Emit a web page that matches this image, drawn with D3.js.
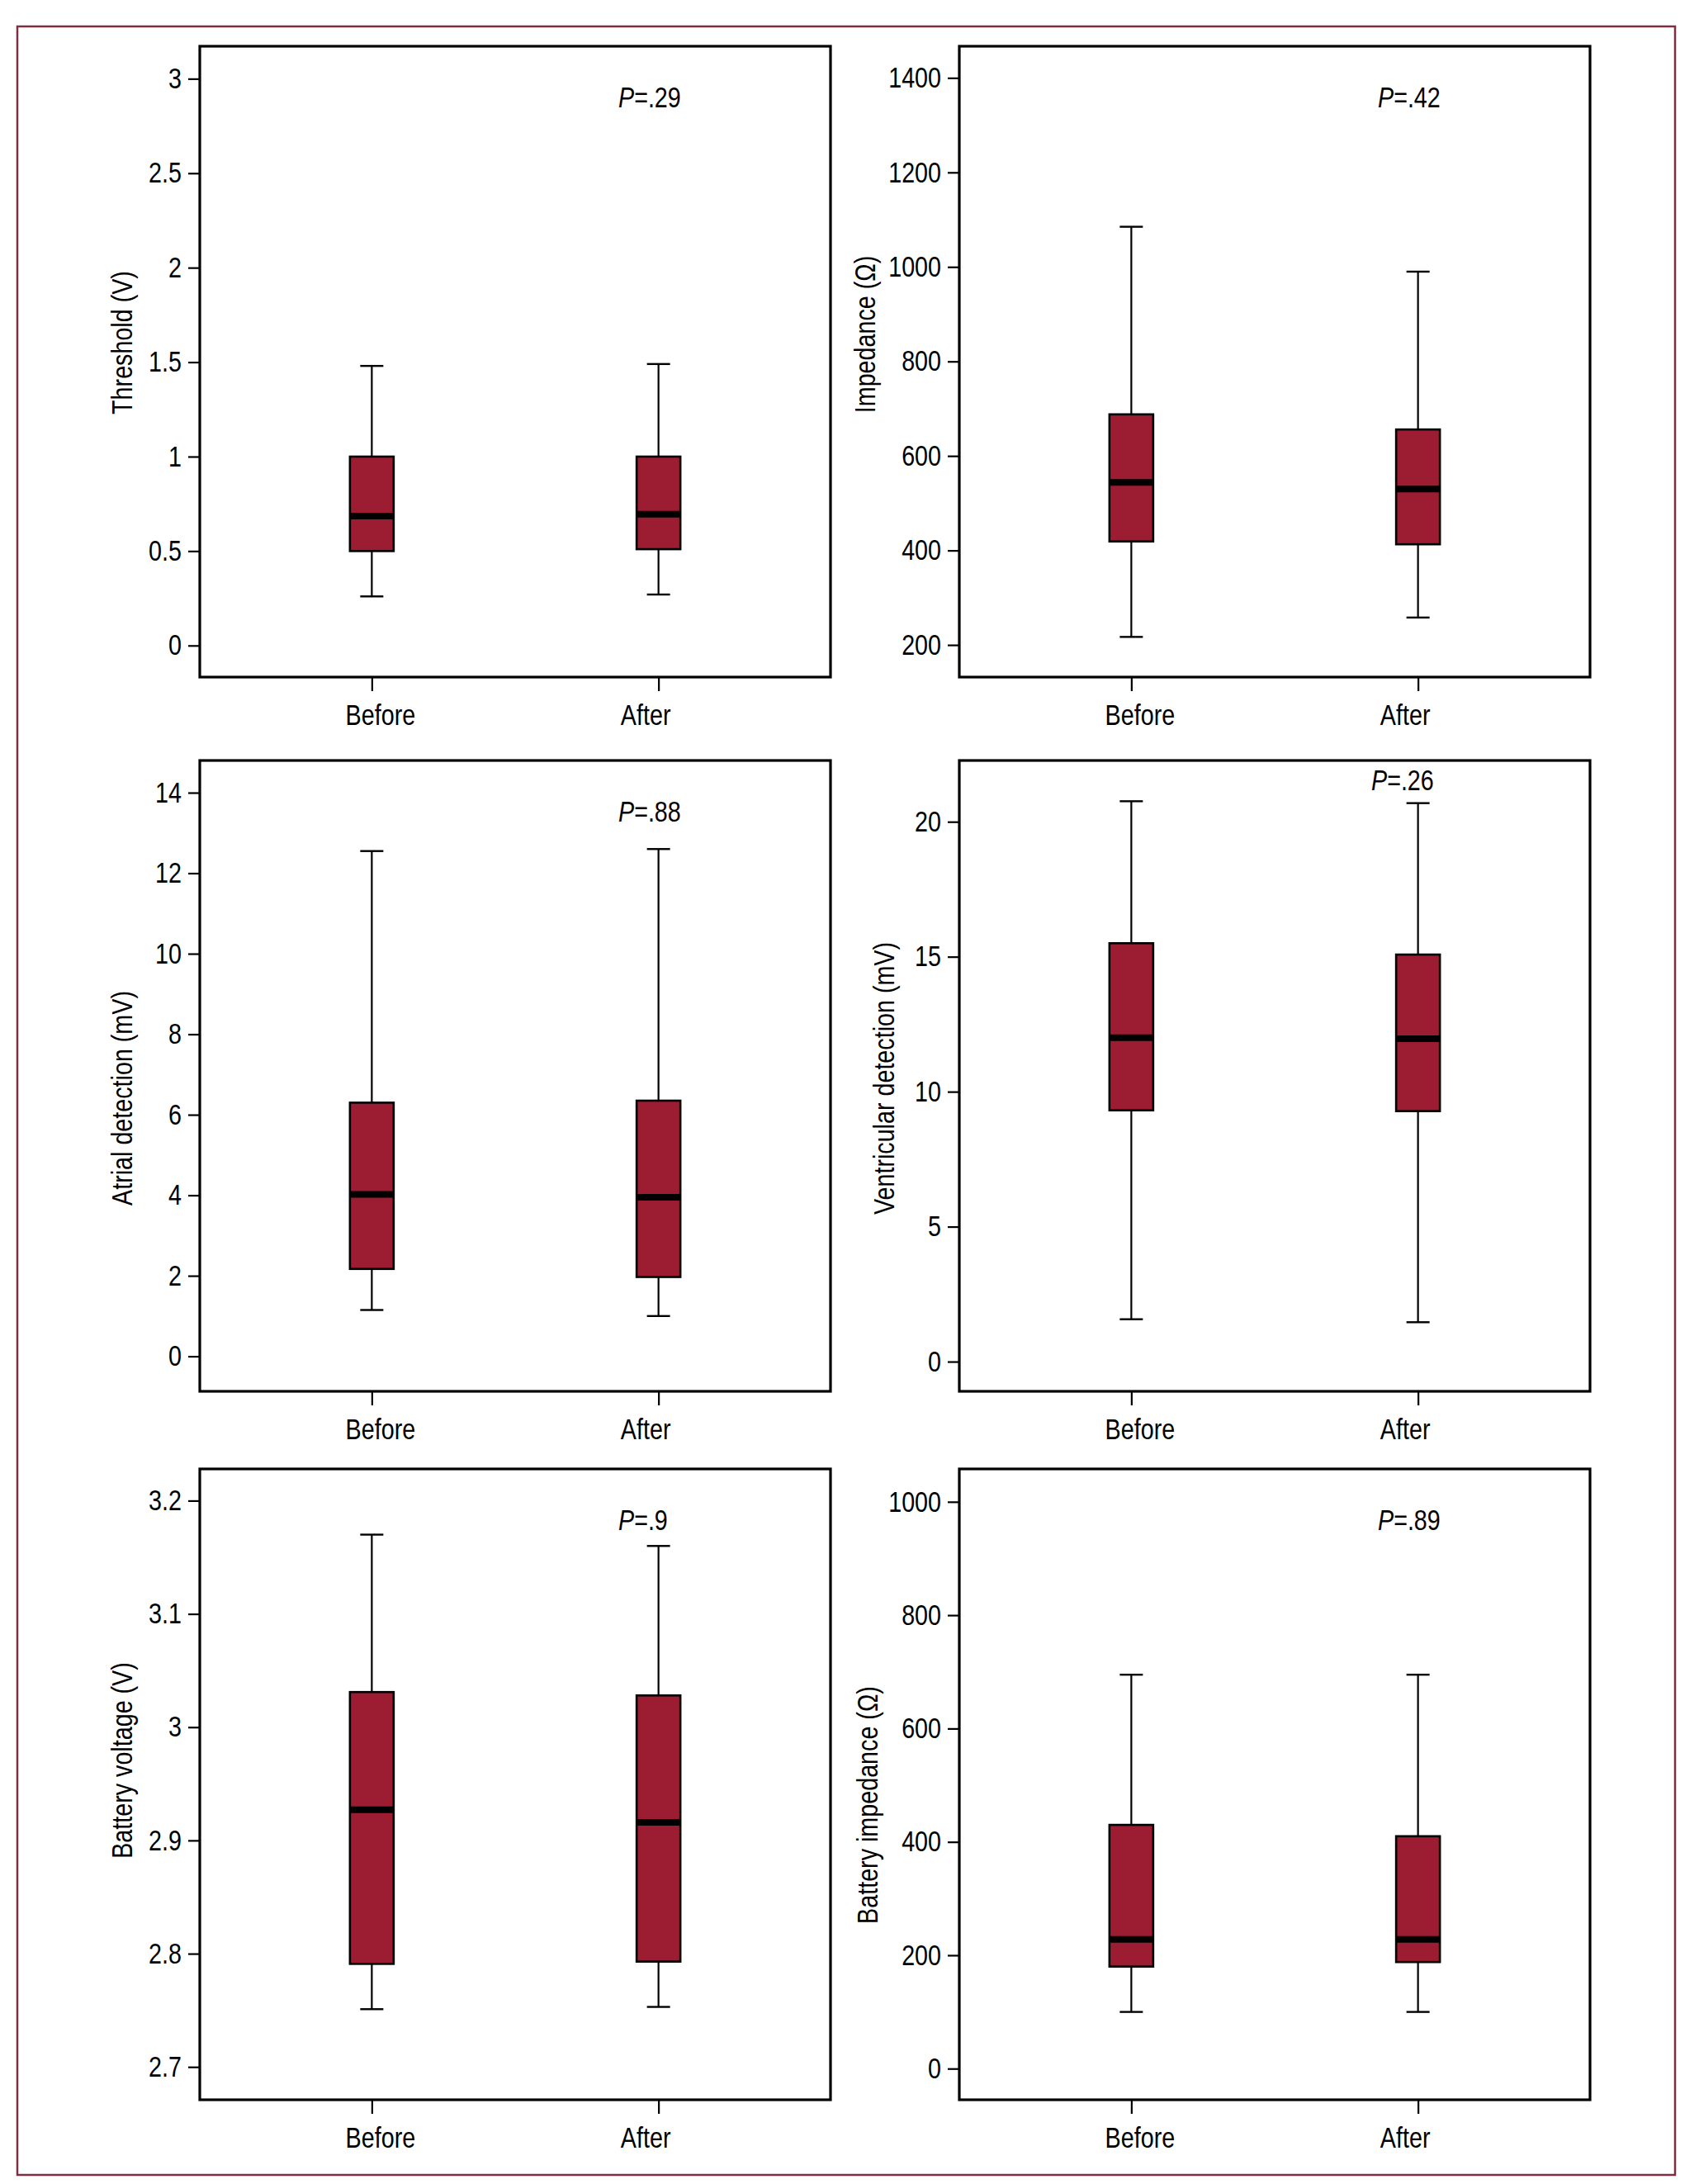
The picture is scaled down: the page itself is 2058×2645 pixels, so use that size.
<!DOCTYPE html>
<html>
<head>
<meta charset="utf-8">
<script src="https://cdn.jsdelivr.net/npm/d3@7/dist/d3.min.js"></script>
<style>
  html, body { margin: 0; padding: 0; background: #fff; }
  text { font-family: "Liberation Sans", Arial, Helvetica, sans-serif; fill: #000; }
</style>
</head>
<body>
<svg id="chart" width="2058" height="2645"></svg>
<script>
// ---------- DATA ----------
const groups = ["Before", "After"];

const panelTitles = [
  "Threshold (V)",
  "Impedance (\u03A9)",
  "Atrial detection (mV)",
  "Ventricular detection (mV)",
  "Battery voltage (V)",
  "Battery impedance (\u03A9)"
];

const pValues = [".29", ".42", ".88", ".26", ".9", ".89"];

// box stats per panel: [lowerWhisker, Q1, median, Q3, upperWhisker] for Before / After
const thresholdBefore = [0.26, 0.50, 0.685, 1.00, 1.48];
const thresholdAfter  = [0.27, 0.51, 0.695, 1.00, 1.49];

const impedanceBefore = [217, 419, 544, 688, 1085];
const impedanceAfter  = [258, 413, 530, 656, 990];

const atrialBefore = [1.15, 2.17, 4.02, 6.30, 12.55];
const atrialAfter  = [1.00, 1.97, 3.95, 6.35, 12.60];

const ventricularBefore = [1.57, 9.31, 12.00, 15.50, 20.76];
const ventricularAfter  = [1.46, 9.28, 11.96, 15.08, 20.69];

const batteryVoltageBefore = [2.751, 2.791, 2.927, 3.031, 3.170];
const batteryVoltageAfter  = [2.753, 2.793, 2.916, 3.028, 3.160];

const batteryImpedanceBefore = [100, 180, 228, 430, 695];
const batteryImpedanceAfter  = [100, 188, 228, 410, 695];

// y-axis domains and tick values
const yDomains = [
  [-0.167, 3.172],
  [132, 1467],
  [-0.87, 14.8],
  [-1.1, 22.27],
  [2.671, 3.228],
  [-55, 1058]
];
const yTicks = [
  [0, 0.5, 1, 1.5, 2, 2.5, 3],
  [200, 400, 600, 800, 1000, 1200, 1400],
  [0, 2, 4, 6, 8, 10, 12, 14],
  [0, 5, 10, 15, 20],
  [2.7, 2.8, 2.9, 3.0, 3.1, 3.2],
  [0, 200, 400, 600, 800, 1000]
];

const panelData = [
  [thresholdBefore, thresholdAfter],
  [impedanceBefore, impedanceAfter],
  [atrialBefore, atrialAfter],
  [ventricularBefore, ventricularAfter],
  [batteryVoltageBefore, batteryVoltageAfter],
  [batteryImpedanceBefore, batteryImpedanceAfter]
];

// ---------- LAYOUT ----------
const colX = [242, 1162];
const rowY = [56, 921, 1779];
const PW = 764, PH = 764;
const titleOffsetX = [95, 115, 95, 92, 95, 112];   // distance of y-title centre left of panel
const titleShiftY  = [-23, -33, 27, 3, -29, 25];    // shift of y-title centre from panel centre
const pBaseline    = [74, 74, 74, 36, 74, 74];
const pStart       = [507, 507, 507, 499, 507, 507];
const FONT = 35;
const SX = 0.82;            // horizontal condensing of the text
const boxW = 53, capW = 28;
const boxFill = "#9c1c31";

const svg = d3.select("#chart");

// outer frame
svg.append("rect")
  .attr("x", 21).attr("y", 32)
  .attr("width", 2029 - 21).attr("height", 2634 - 32)
  .attr("fill", "none").attr("stroke", "#7d2f40").attr("stroke-width", 2.5);

panelData.forEach((data, i) => {
  const px = colX[i % 2], py = rowY[Math.floor(i / 2)];
  const g = svg.append("g").attr("transform", `translate(${px},${py})`);

  const x = d3.scalePoint().domain(groups).range([0, PW]).padding(0.6);
  const y = d3.scaleLinear().domain(yDomains[i]).range([PH, 0]);

  // y axis
  const yAxis = d3.axisLeft(y).tickValues(yTicks[i]).tickSize(14).tickPadding(8)
    .tickFormat(d => (+d.toFixed(3)).toString());
  const ya = g.append("g").call(yAxis);
  ya.select(".domain").remove();
  ya.selectAll(".tick line").attr("stroke", "#000").attr("stroke-width", 2.2);
  ya.selectAll(".tick text").attr("font-size", FONT).attr("fill", "#000")
    .attr("x", -22 / SX).attr("transform", `scale(${SX},1)`);

  // x axis at bottom
  const xAxis = d3.axisBottom(x).tickSize(17).tickPadding(14);
  const xa = g.append("g").attr("transform", `translate(0,${PH})`).call(xAxis);
  xa.select(".domain").remove();
  xa.selectAll(".tick line").attr("stroke", "#000").attr("stroke-width", 2.2);
  xa.selectAll(".tick text").attr("font-size", FONT).attr("fill", "#000")
    .attr("x", d => (d === "Before" ? 10 : -16) / SX)
    .attr("dy", "0.76em")
    .attr("transform", `scale(${SX},1)`);

  // boxes
  data.forEach((s, j) => {
    const cx = x(groups[j]);
    const [lo, q1, med, q3, hi] = s;
    g.append("line").attr("x1", cx).attr("x2", cx).attr("y1", y(hi)).attr("y2", y(q3))
      .attr("stroke", "#000").attr("stroke-width", 2.2);
    g.append("line").attr("x1", cx).attr("x2", cx).attr("y1", y(q1)).attr("y2", y(lo))
      .attr("stroke", "#000").attr("stroke-width", 2.2);
    g.append("line").attr("x1", cx - capW / 2).attr("x2", cx + capW / 2).attr("y1", y(hi)).attr("y2", y(hi))
      .attr("stroke", "#000").attr("stroke-width", 2.4);
    g.append("line").attr("x1", cx - capW / 2).attr("x2", cx + capW / 2).attr("y1", y(lo)).attr("y2", y(lo))
      .attr("stroke", "#000").attr("stroke-width", 2.4);
    g.append("rect").attr("x", cx - boxW / 2).attr("width", boxW)
      .attr("y", y(q3)).attr("height", y(q1) - y(q3))
      .attr("fill", boxFill).attr("stroke", "#000").attr("stroke-width", 2.6);
    g.append("line").attr("x1", cx - boxW / 2 + 1).attr("x2", cx + boxW / 2 - 1)
      .attr("y1", y(med)).attr("y2", y(med))
      .attr("stroke", "#000").attr("stroke-width", 8);
  });

  // panel frame
  g.append("rect").attr("x", 0).attr("y", 0).attr("width", PW).attr("height", PH)
    .attr("fill", "none").attr("stroke", "#000").attr("stroke-width", 3.2);

  // P value
  const pt = g.append("text")
    .attr("transform", `translate(${pStart[i]},${pBaseline[i]}) scale(${SX},1)`)
    .attr("font-size", FONT);
  pt.append("tspan").attr("font-style", "italic").text("P");
  pt.append("tspan").text("=" + pValues[i]);

  // y title
  g.append("text")
    .attr("transform", `translate(${-titleOffsetX[i]},${PH / 2 + titleShiftY[i]}) rotate(-90) scale(${SX},1)`)
    .attr("text-anchor", "middle").attr("dy", "0.36em")
    .attr("font-size", FONT)
    .text(panelTitles[i]);
});
</script>
</body>
</html>
